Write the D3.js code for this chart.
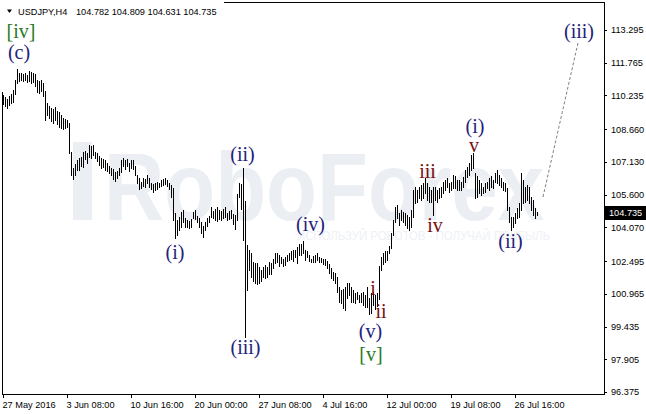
<!DOCTYPE html>
<html><head><meta charset="utf-8">
<script src="https://cdn.jsdelivr.net/npm/d3@7"></script>
<style>html,body{margin:0;padding:0;background:#fff;overflow:hidden}</style>
</head><body><svg id="c" width="646" height="414"></svg>
<script>
// ---- data (USDJPY H4 bars) ----
const highs = [110.25,110.15,110.05,110.2,110.3,110.5,110.95,111.45,111.3,111.3,
111.25,111.3,111.2,111.4,111.35,111.3,111.25,110.95,110.9,110.95,
110.8,110.45,109.9,109.75,109.65,109.6,109.7,109.5,109.45,109.3,
109.2,109.15,109.1,108.95,107.6,106.85,107.05,107.2,107.3,107.35,
107.6,107.65,107.55,107.9,107.85,107.9,107.6,107.55,107.4,107.3,
107.25,107.2,107.1,106.95,106.85,106.8,106.65,106.7,106.85,107.2,
107.3,107.2,107.25,107.1,107.2,107.2,106.95,106.5,106.4,106.2,
106.4,106.35,106.5,106.4,106.15,106.1,106.15,106.2,106.15,106.3,
106.35,106.4,106.3,106.15,106.05,105.9,104.75,104.4,104.55,104.8,
104.9,104.5,104.4,104.35,104.45,104.8,104.9,104.6,104.5,104.3,
104.15,104.3,104.5,104.6,105.0,104.85,104.95,105.0,104.9,104.85,
104.95,105.0,104.75,104.85,104.9,104.7,104.65,105.65,106.15,106.1,
106.85,105.3,103.25,103.0,102.85,102.45,102.4,102.4,102.2,102.1,
102.2,102.3,102.2,102.45,102.4,102.6,102.85,102.85,102.8,102.7,
102.6,102.7,102.8,102.85,102.95,103.0,103.0,103.15,103.3,103.3,
103.42,103.0,102.95,102.8,102.6,102.75,102.8,102.85,102.7,102.65,
102.6,102.6,102.5,102.35,102.17,102.0,101.95,101.75,101.3,101.15,
101.2,101.3,101.45,101.45,101.3,101.15,101.0,101.05,100.9,101.0,
101.05,100.9,101.3,100.75,101.0,101.05,100.9,101.0,102.25,102.7,
102.85,102.95,102.95,103.2,103.8,104.4,105.0,105.1,104.73,104.88,
104.8,104.73,104.63,104.55,104.88,105.82,105.97,105.82,105.97,106.05,
106.15,106.38,106.14,105.97,105.82,105.97,105.97,105.82,105.9,105.95,
106.2,106.28,106.38,106.14,106.2,106.52,106.45,106.3,106.28,106.2,
106.43,106.75,106.9,107.07,107.45,107.55,106.6,106.45,106.28,106.14,
105.97,106.14,106.2,106.38,106.45,106.3,106.6,106.75,106.52,106.38,
106.2,106.14,105.9,105.02,104.55,104.55,104.73,104.97,105.2,106.6,
106.28,105.97,106.05,105.97,105.49,105.35,104.97,104.809];
const lows = [109.85,109.75,109.65,109.8,109.9,109.95,110.3,110.8,110.9,110.95,
110.9,110.95,110.85,110.9,110.8,110.85,110.7,110.4,110.35,110.45,
110.2,109.1,109.3,109.2,109.05,108.95,109.1,108.9,108.75,108.7,
108.65,108.7,108.75,107.55,106.5,106.35,106.5,106.75,106.75,106.95,
106.9,107.25,107.1,107.35,107.3,107.45,107.3,107.15,107.0,106.85,
106.9,106.75,106.7,106.6,106.5,106.35,106.25,106.4,106.5,106.65,
106.95,106.8,106.95,106.7,106.85,106.8,106.5,106.15,105.85,105.9,
106.0,105.95,106.15,105.95,105.85,105.7,105.8,105.85,105.95,106.0,
106.05,106.1,106.0,105.85,105.5,104.4,103.55,103.7,103.95,104.1,
104.3,104.1,104.1,104.05,104.1,104.5,104.45,104.3,104.1,103.8,
103.6,103.95,104.15,104.3,104.55,104.5,104.4,104.35,104.45,104.4,
104.5,104.55,104.4,104.45,104.5,104.25,104.0,104.4,105.5,104.95,
103.5,98.95,101.15,102.1,101.75,101.55,101.45,101.4,101.45,101.55,
101.75,101.7,101.75,101.9,101.9,102.15,102.4,102.45,102.25,102.4,
102.25,102.3,102.5,102.55,102.6,102.5,102.7,102.4,102.8,102.8,
102.85,102.55,102.7,102.5,102.45,102.45,102.45,102.55,102.45,102.45,
102.35,102.3,102.15,101.95,101.7,101.6,101.45,101.05,100.6,100.55,
100.3,100.2,100.75,100.9,100.6,100.6,100.55,100.7,100.6,100.6,
100.45,100.35,100.35,100.0,100.05,100.45,100.25,100.4,100.7,102.1,
102.35,102.45,102.55,102.85,103.1,103.7,104.3,104.5,104.18,104.42,
104.3,104.18,104.03,103.95,104.1,104.55,105.2,105.27,105.43,105.35,
105.45,105.68,105.35,105.27,105.27,104.65,105.35,105.27,105.43,105.5,
105.68,105.82,105.96,105.72,105.82,105.9,105.9,105.8,105.82,105.82,
105.97,106.2,106.43,106.52,106.75,106.83,105.45,105.5,105.68,105.58,
105.68,105.72,105.9,105.82,105.97,105.9,106.2,106.14,106.05,105.97,
105.82,105.75,104.88,104.32,103.95,104.1,104.27,104.5,104.55,104.88,
105.2,105.27,105.35,105.2,104.88,104.65,104.5,104.631];

const priceTicks = [113.295,111.765,110.235,108.660,107.130,105.600,104.070,102.495,100.965,99.435,97.905,96.375];
const timeTickIdx = [0,32,64,96,128,160,192,224,256];
const timeTickLabels = ["27 May 2016","3 Jun 08:00","10 Jun 16:00","20 Jun 00:00","27 Jun 08:00","4 Jul 16:00","12 Jul 00:00","19 Jul 08:00","26 Jul 16:00"];

// Elliott wave labels: text, bar index, price (baseline), kind
const waveText  = ["[iv]","(c)","(i)","(ii)","(iii)","(iv)","i","ii","(v)","[v]","iii","iv","(i)","v","(ii)","(iii)"];
const waveIdx   = [9,8,86,119.75,121.25,153.75,185,189,183.75,184,212.25,216,236,235.5,253.75,288];
const wavePrice = [112.9,111.92,102.59,107.15,98.13,103.90,100.91,99.83,98.90,97.82,106.38,103.85,108.46,107.59,103.11,112.92];
const waveKind  = ["major","minor","minor","minor","minor","minor","sub","sub","minor","major","sub","sub","minor","sub","minor","minor"];

// projected path (dashed)
const projIdx = [270, 287.5];
const projPrice = [105.49, 112.69];

const symbolText = "USDJPY,H4";
const ohlcText = ["104.782","104.809","104.631","104.735"];
const lastPrice = 104.735;

// ---- drawing ----
const svg = d3.select("#c");
const W = 646, H = 414;
const x = d3.scaleLinear().domain([0, 267]).range([3, 537]);
const y = d3.scaleLinear().domain([96.375, 113.295]).range([392, 30]);

const colors = {major:"#2a7a1e", minor:"#22227a", sub:"#7a0f0f"};

svg.append("rect").attr("width",W).attr("height",H).attr("fill","#fff");

// watermark
const wm = svg.append("g").attr("fill","#ebeef3");
wm.append("rect").attr("x",73).attr("y",142).attr("width",19).attr("height",78);
wm.append("text").attr("x",104).attr("y",220)
  .attr("font-family","Liberation Sans, Arial, sans-serif").attr("font-size",96).attr("font-weight","bold")
  .attr("textLength",440).attr("lengthAdjust","spacingAndGlyphs").text("RoboForex");
wm.append("text").attr("x",297).attr("y",240).attr("fill","#eef1f5")
  .attr("font-family","Liberation Sans, Arial, sans-serif").attr("font-size",12)
  .attr("textLength",253).attr("lengthAdjust","spacingAndGlyphs")
  .text("ИСПОЛЬЗУЙ РОБОТОВ - ПОЛУЧАЙ ПРИБЫЛЬ");

// bars
const bars = d3.range(highs.length).map(i => ({i, h: highs[i], l: lows[i]}));
svg.append("g").attr("stroke","#000").attr("stroke-width",1).attr("shape-rendering","crispEdges")
  .selectAll("line").data(bars).join("line")
  .attr("x1", d => Math.round(x(d.i)) + 0.5).attr("x2", d => Math.round(x(d.i)) + 0.5)
  .attr("y1", d => Math.round(y(d.h))).attr("y2", d => Math.round(y(d.l)) + 1);

// projection dashed line
svg.append("path")
  .attr("d", d3.line()(projIdx.map((v,k) => [x(v), y(projPrice[k])])))
  .attr("fill","none").attr("stroke","#808080").attr("stroke-width",1).attr("stroke-dasharray","3,2");

// wave labels
svg.append("g").selectAll("text").data(waveText).join("text")
  .attr("x", (d,k) => x(waveIdx[k])).attr("y", (d,k) => y(wavePrice[k]))
  .attr("text-anchor","middle")
  .attr("font-family","Liberation Serif, Times New Roman, serif")
  .attr("font-size",20)
  .attr("fill", (d,k) => colors[waveKind[k]])
  .text(d => d);

// frame
const frame = svg.append("g").attr("stroke","#000").attr("shape-rendering","crispEdges");
frame.append("line").attr("x1",604.5).attr("x2",604.5).attr("y1",2).attr("y2",395);
frame.append("line").attr("x1",224).attr("x2",605).attr("y1",2.5).attr("y2",2.5);
frame.append("line").attr("x1",2.5).attr("x2",2.5).attr("y1",92).attr("y2",395);

// right price axis
const ya = svg.append("g").attr("transform","translate(604,0)")
  .call(d3.axisRight(y).tickValues(priceTicks).tickFormat(d3.format(".3f")).tickSize(3).tickPadding(4));
ya.select(".domain").remove();
ya.selectAll("text").attr("font-family","Liberation Sans, Arial, sans-serif").attr("font-size",9.2).attr("fill","#000");
ya.selectAll("line").attr("stroke","#000").attr("shape-rendering","crispEdges");

// bottom time axis
const xa = svg.append("g").attr("transform","translate(0,394)")
  .call(d3.axisBottom(x).tickValues(timeTickIdx).tickFormat((d,k) => timeTickLabels[k]).tickSize(4).tickPadding(3));
xa.select(".domain").attr("d","M2,0.5H605").attr("stroke","#000").attr("shape-rendering","crispEdges");
xa.selectAll("line").attr("stroke","#000").attr("shape-rendering","crispEdges");
xa.selectAll("text").attr("text-anchor","start").attr("dx",-1)
  .attr("font-family","Liberation Sans, Arial, sans-serif").attr("font-size",9.2).attr("fill","#000");

// current price marker
const ly = y(lastPrice);
svg.append("rect").attr("x",605).attr("y",Math.round(ly)-7).attr("width",41).attr("height",14).attr("fill","#000");
svg.append("text").attr("x",609).attr("y",ly).attr("dy","0.35em")
  .attr("font-family","Liberation Sans, Arial, sans-serif").attr("font-size",9.2).attr("fill","#fff")
  .text(d3.format(".3f")(lastPrice));

// header
svg.append("path").attr("d","M7,9.5H12L9.5,13Z").attr("fill","#000");
svg.append("text").attr("x",18).attr("y",14.5)
  .attr("font-family","Liberation Sans, Arial, sans-serif").attr("font-size",9.2).attr("fill","#000")
  .text(symbolText);
svg.append("text").attr("x",76).attr("y",14.5)
  .attr("font-family","Liberation Sans, Arial, sans-serif").attr("font-size",9.2).attr("fill","#000")
  .text(ohlcText.join(" "));
</script></body></html>
